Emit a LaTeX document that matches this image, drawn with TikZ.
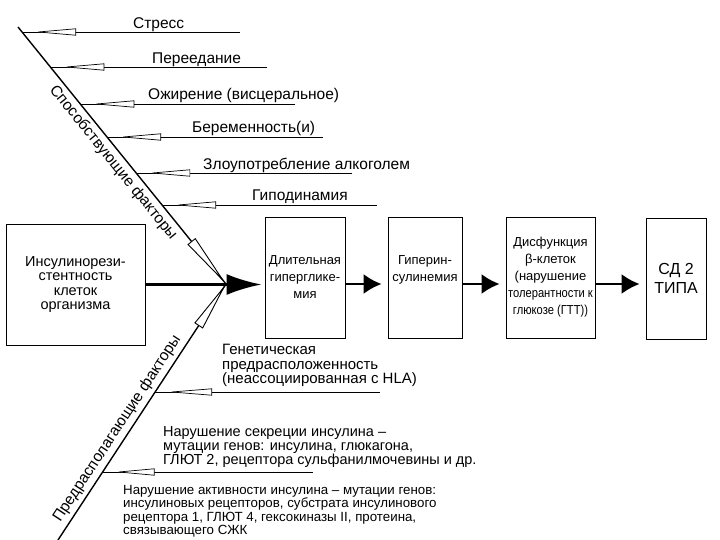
\documentclass[tikz,border=0pt]{standalone}
\usepackage{fontspec}
\setmainfont{Liberation Sans}
\newfontfamily\narrowfont[FakeStretch=0.86]{Liberation Sans}
\usetikzlibrary{arrows.meta,decorations.markings}

\tikzset{
  stage/.style={draw, line width=0.8pt, align=center, inner sep=1pt, minimum height=121pt},
  flow/.style={line width=2.2pt, -{Latex[length=18pt,width=20pt]}, shorten >=6pt},
  spinetip/.style={postaction={decorate},
    decoration={markings, mark=at position 1 with {\arrow[line width=0.9pt]{Triangle[open,fill=white,length=#1,width=10pt]}}}},
  factor/.style={line width=0.8pt, postaction={decorate},
    decoration={markings, mark=at position -12pt with {\arrow[line width=0.7pt]{Triangle[open,fill=white,length=#1,width=7pt]}}}},
  factor/.default=42pt,
  cause/.style={anchor=base west, inner sep=0pt, font=\fontsize{15.5}{18}\selectfont},
  gene/.style={anchor=north west, inner sep=0pt, align=left, font=\fontsize{14.5}{14}\selectfont},
  axislabel/.style={sloped, inner sep=4pt, font=\fontsize{15.5}{18}\selectfont},
}

\begin{document}
\begin{tikzpicture}[x=1pt, y=-1pt]
  \useasboundingbox (0,0) rectangle (720,540);

  % spines
  \coordinate (top) at (18,27);
  \coordinate (conv) at (226,284);
  \coordinate (bot) at (58,540);

  % chain of stages
  \node[stage, minimum width=139pt, font=\fontsize{14.5}{14.5}\selectfont] (ir) at (75.5,284.5)
    {Инсулинорези-\\стентность\\клеток\\организма};
  \node[stage, minimum width=80pt, font=\fontsize{13}{17}\selectfont] (hg) at (305,277.5)
    {Длительная\\гиперглике-\\мия};
  \node[stage, minimum width=74pt, font=\fontsize{13}{17}\selectfont] (hi) at (425,277.5)
    {Гиперин-\\сулинемия\\\mbox{}};
  \node[stage, minimum width=89pt, font=\fontsize{13}{17}\selectfont] (bc) at (550.5,277.5)
    {Дисфункция\\β-клеток\\(нарушение\\{\narrowfont толерантности к}\\{\narrowfont глюкозе (ГТТ))}};
  \node[stage, minimum width=60pt, font=\fontsize{16}{19}\selectfont] (sd) at (676,278.5)
    {СД 2\\ТИПА};

  \draw[line width=3pt, -{Latex[length=35pt,width=21pt]}, shorten >=3pt] (ir.east) -- (ir.east -| hg.west);
  \draw[flow] (hg.east |- conv) -- (hi.west |- conv);
  \draw[flow] (hi.east |- conv) -- (bc.west |- conv);
  \draw[flow] (bc.east |- conv) -- (sd.west |- conv);

  \path (top) -- (conv) node[axislabel, pos=0.5, below] (sf) {Способствующие факторы};
  \path (bot) -- (conv) node[axislabel, pos=0.41, above] (pf) {Предрасполагающие факторы};
  \draw[line width=1.4pt, spinetip=55pt] (top) -- (conv);
  \draw[line width=1.4pt, spinetip=50pt] (bot) -- (conv);

  % contributing factors
  \coordinate (r1) at (240,32);  \coordinate (d1) at (22,32);
  \coordinate (r2) at (267,67);  \coordinate (d2) at (50.4,67);
  \coordinate (r3) at (295,104); \coordinate (d3) at (80.3,104);
  \coordinate (r4) at (323,137); \coordinate (d4) at (107,137);
  \coordinate (r5) at (352,173); \coordinate (d5) at (136.2,173);
  \coordinate (r6) at (377,205); \coordinate (d6) at (162.1,205);
  \draw[factor] (r1) -- (d1);
  \draw[factor] (r2) -- (d2);
  \draw[factor] (r3) -- (d3);
  \draw[factor] (r4) -- (d4);
  \draw[factor] (r5) -- (d5);
  \draw[factor] (r6) -- (d6);

  \node[cause] (stress) at (133,28.5) {Стресс};
  \node[cause] (overeat) at (152,64) {Переедание};
  \node[cause] (obesity) at (148,100) {Ожирение (висцеральное)};
  \node[cause] (pregn) at (192,133) {Беременность(и)};
  \node[cause] (alcohol) at (203,169.5) {Злоупотребление алкоголем};
  \node[cause] (hypodyn) at (252,201) {Гиподинамия};

  % predisposing factors
  \coordinate (r7) at (380,392); \coordinate (d7) at (155.1,392);
  \coordinate (r8) at (313,472); \coordinate (d8) at (102.6,472);
  \draw[factor=45pt] (r7) -- (d7);
  \draw[factor=40pt] (r8) -- (d8);

  \node[gene, font=\fontsize{15}{14.5}\selectfont] (genet) at (222,344)
    {Генетическая\\предрасположенность\\(неассоциированная с HLA)};
  \node[gene] (secr) at (163,426.5)
    {Нарушение секреции инсулина –\\мутации генов: инсулина, глюкагона,\\ГЛЮТ 2, рецептора сульфанилмочевины и др.};
  \node[gene, font=\fontsize{13.3}{13.5}\selectfont] (activ) at (123,485)
    {Нарушение активности инсулина – мутации генов:\\инсулиновых рецепторов, субстрата инсулинового\\рецептора 1, ГЛЮТ 4, гексокиназы II, протеина,\\связывающего СЖК};
\end{tikzpicture}
\end{document}
